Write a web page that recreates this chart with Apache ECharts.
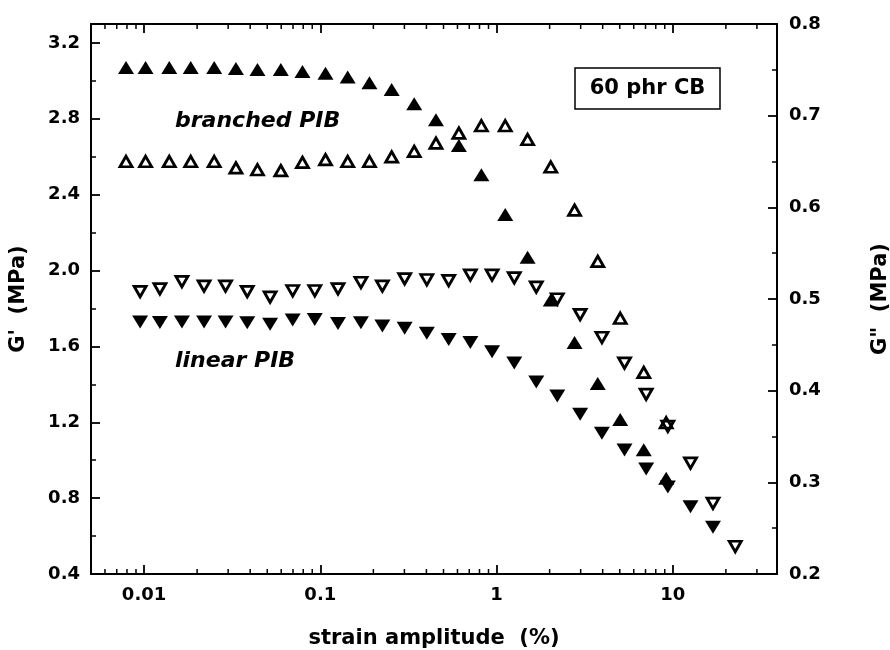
<!DOCTYPE html>
<html>
<head>
<meta charset="utf-8">
<script src="https://cdn.jsdelivr.net/npm/echarts@6/dist/echarts.min.js"></script>
<style>html,body{margin:0;padding:0;background:#fff}#c{width:890px;height:650px}</style>
</head>
<body>
<div id="c"></div>
<script>
// ---- data ----
const branchedStrain = [0.0079, 0.0102, 0.0139, 0.0184, 0.025, 0.0332, 0.044, 0.0597, 0.0792, 0.107, 0.143, 0.19, 0.254, 0.341, 0.453, 0.611, 0.82, 1.12, 1.5, 2.03, 2.77, 3.75, 5.03, 6.84, 9.17];
const branchedGp  = [3.07, 3.07, 3.07, 3.07, 3.07, 3.065, 3.06, 3.06, 3.05, 3.04, 3.02, 2.99, 2.955, 2.88, 2.795, 2.66, 2.505, 2.295, 2.07, 1.845, 1.62, 1.405, 1.215, 1.055, 0.905];
const branchedGpp = [0.650, 0.650, 0.650, 0.650, 0.650, 0.643, 0.641, 0.640, 0.649, 0.652, 0.650, 0.650, 0.655, 0.661, 0.670, 0.681, 0.689, 0.689, 0.674, 0.644, 0.597, 0.541, 0.479, 0.420, 0.365];
const linearStrain = [0.0095, 0.0123, 0.0164, 0.0219, 0.029, 0.0385, 0.0519, 0.0697, 0.093, 0.126, 0.17, 0.225, 0.301, 0.402, 0.535, 0.71, 0.943, 1.26, 1.68, 2.21, 2.98, 3.96, 5.32, 7.06, 9.37, 12.6, 16.9, 22.6];
const linearGp  = [1.729, 1.726, 1.729, 1.729, 1.729, 1.725, 1.717, 1.739, 1.742, 1.721, 1.725, 1.708, 1.696, 1.669, 1.637, 1.620, 1.572, 1.513, 1.412, 1.339, 1.242, 1.142, 1.054, 0.954, 0.859, 0.755, 0.646];
const linearGpp = [0.508, 0.511, 0.519, 0.514, 0.514, 0.508, 0.502, 0.509, 0.509, 0.511, 0.518, 0.514, 0.522, 0.521, 0.520, 0.526, 0.526, 0.523, 0.513, 0.500, 0.483, 0.458, 0.430, 0.396, 0.361, 0.321, 0.277, 0.230];

// axis ranges and ticks
const xRange = [0.005, 39];
const xMinorTicks = [0.006, 0.007, 0.008, 0.009, 0.02, 0.03, 0.04, 0.05, 0.06, 0.07, 0.08, 0.09, 0.2, 0.3, 0.4, 0.5, 0.6, 0.7, 0.8, 0.9, 2, 3, 4, 5, 6, 7, 8, 9, 20, 30];
const leftRange = [0.4, 3.3];
const leftInterval = 0.4;
const rightRange = [0.2, 0.8];
const rightInterval = 0.1;

const labels = {
  xTitle: 'strain amplitude  (%)',
  leftTitle: "G'  (MPa)",
  rightTitle: 'G"  (MPa)',
  branched: 'branched PIB',
  linear: 'linear PIB',
  box: '60 phr CB'
};

const pair = (xs, ys) => ys.map((y, i) => [xs[i], y]);

const tickFont = { fontFamily: '"DejaVu Sans"', fontWeight: 'bold', fontSize: 18, color: '#000' };
const titleFont = { fontFamily: '"DejaVu Sans"', fontWeight: 'bold', fontSize: 21, color: '#000' };
const axisLine = { show: true, lineStyle: { color: '#000', width: 2 } };
const majorTick = { show: true, inside: true, length: 9, lineStyle: { color: '#000', width: 1.8 } };
const minorTick = { show: true, splitNumber: 2, length: 5, lineStyle: { color: '#000', width: 1.5 } };

const chart = echarts.init(document.getElementById('c'), null, { renderer: 'canvas' });

chart.setOption({
  animation: false,
  backgroundColor: '#fff',
  grid: { left: 91, right: 113, top: 24, bottom: 76, containLabel: false, outerBoundsMode: 'none' },
  xAxis: [
    {
      type: 'log', logBase: 10, min: xRange[0], max: xRange[1], position: 'bottom',
      axisLine: axisLine, axisTick: majorTick,
      axisLabel: Object.assign({ margin: 12, showMinLabel: false, showMaxLabel: false,
        formatter: v => { const l = Math.log10(v); return Math.abs(l - Math.round(l)) < 1e-6 ? String(+v.toPrecision(6)) : ''; } }, tickFont),
      splitLine: { show: false },
      name: labels.xTitle, nameLocation: 'middle', nameGap: 54, nameTextStyle: titleFont
    },
    {
      type: 'log', logBase: 10, min: xRange[0], max: xRange[1], position: 'top',
      axisLine: axisLine, axisTick: majorTick,
      axisLabel: { show: false },
      splitLine: { show: false }
    }
  ],
  yAxis: [
    {
      type: 'value', min: leftRange[0], max: leftRange[1], interval: leftInterval, position: 'left',
      axisLine: axisLine, axisTick: majorTick, minorTick: minorTick,
      axisLabel: Object.assign({ margin: 11, showMaxLabel: false, formatter: v => v.toFixed(1) }, tickFont),
      splitLine: { show: false },
      name: labels.leftTitle, nameLocation: 'middle', nameRotate: 90, nameGap: 62, nameTextStyle: titleFont
    },
    {
      type: 'value', min: rightRange[0], max: rightRange[1], interval: rightInterval, position: 'right',
      axisLine: axisLine, axisTick: majorTick, minorTick: minorTick,
      axisLabel: Object.assign({ margin: 12, formatter: v => v.toFixed(1) }, tickFont),
      splitLine: { show: false },
      name: labels.rightTitle, nameLocation: 'middle', nameRotate: 90, nameGap: 93, nameTextStyle: titleFont
    }
  ],
  series: [
    {
      name: 'x minor ticks', type: 'custom', xAxisIndex: 0, yAxisIndex: 0, silent: true, clip: false, z: 1,
      data: xMinorTicks.map(v => [v, leftRange[0]]),
      renderItem: (params, api) => {
        const v = api.value(0);
        const b = api.coord([v, leftRange[0]]);
        const t = api.coord([v, leftRange[1]]);
        const st = { stroke: '#000', lineWidth: 1.5 };
        return { type: 'group', children: [
          { type: 'line', shape: { x1: b[0], y1: b[1], x2: b[0], y2: b[1] - 5 }, style: st },
          { type: 'line', shape: { x1: t[0], y1: t[1], x2: t[0], y2: t[1] + 5 }, style: st }
        ] };
      }
    },
    {
      name: "branched G'", type: 'scatter', xAxisIndex: 0, yAxisIndex: 0,
      data: pair(branchedStrain, branchedGp),
      symbol: 'triangle', symbolSize: [16, 13],
      itemStyle: { color: '#000', opacity: 1 }, z: 3
    },
    {
      name: 'branched G"', type: 'scatter', xAxisIndex: 0, yAxisIndex: 1,
      data: pair(branchedStrain, branchedGpp),
      symbol: 'triangle', symbolSize: [12, 10.5],
      itemStyle: { color: 'rgba(0,0,0,0)', borderColor: '#000', borderWidth: 2.8, opacity: 1 }, z: 4
    },
    {
      name: "linear G'", type: 'scatter', xAxisIndex: 0, yAxisIndex: 0,
      data: pair(linearStrain, linearGp),
      symbol: 'triangle', symbolRotate: 180, symbolSize: [16, 13],
      itemStyle: { color: '#000', opacity: 1 }, z: 3
    },
    {
      name: 'linear G"', type: 'scatter', xAxisIndex: 0, yAxisIndex: 1,
      data: pair(linearStrain, linearGpp),
      symbol: 'triangle', symbolRotate: 180, symbolSize: [12, 10.5],
      itemStyle: { color: 'rgba(0,0,0,0)', borderColor: '#000', borderWidth: 2.8, opacity: 1 }, z: 4
    }
  ],
  graphic: [
    { type: 'text', x: 175, y: 121, style: { text: labels.branched, font: 'italic bold 22px "DejaVu Sans"', fill: '#000', align: 'left', verticalAlign: 'middle' } },
    { type: 'text', x: 175, y: 361, style: { text: labels.linear, font: 'italic bold 22px "DejaVu Sans"', fill: '#000', align: 'left', verticalAlign: 'middle' } },
    { type: 'rect', shape: { x: 575, y: 68, width: 145, height: 41 }, style: { fill: '#fff', stroke: '#000', lineWidth: 1.5 } },
    { type: 'text', x: 647.5, y: 89, style: { text: labels.box, font: 'bold 21px "DejaVu Sans"', fill: '#000', align: 'center', verticalAlign: 'middle' } }
  ]
});
</script>
</body>
</html>
